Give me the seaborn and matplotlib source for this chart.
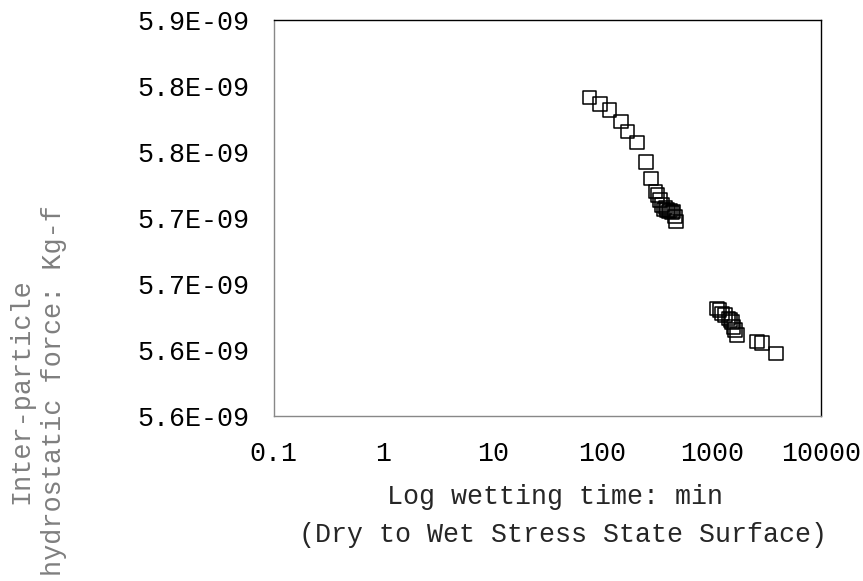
import matplotlib
matplotlib.use("Agg")
import matplotlib.pyplot as plt
import seaborn as sns
import pandas as pd
import numpy as np

sns.set_style("white")
plt.rcParams['font.family'] = ['Liberation Mono', 'DejaVu Sans Mono']

# wetting time [min] and inter-particle hydrostatic force [Kg-f]
wet_time = [76, 95, 116, 147, 169, 206, 251, 277, 305, 318, 336, 350, 360, 375, 387,
            400, 415, 430, 445, 461, 471,
            1109, 1170, 1231, 1319, 1415, 1470, 1520, 1572, 1629, 1688, 2570, 2855, 3854]
force = [5.7914, 5.7864, 5.7818, 5.7730, 5.7654, 5.7571, 5.7424, 5.7298, 5.7199, 5.7174,
         5.7136, 5.7100, 5.7066, 5.7080, 5.7061, 5.7050, 5.7055, 5.7040, 5.7048, 5.7010, 5.6972,
         5.6316, 5.6303, 5.6278, 5.6265, 5.6240, 5.6228, 5.6214, 5.6176, 5.6152, 5.6114,
         5.6063, 5.6055, 5.5975]
force = [v * 1e-9 for v in force]

x_ticks = [0.1, 1, 10, 100, 1000, 10000]
x_tick_labels = ['0.1', '1', '10', '100', '1000', '10000']
y_ticks = [5.55e-9, 5.60e-9, 5.65e-9, 5.70e-9, 5.75e-9, 5.80e-9, 5.85e-9]
y_tick_labels = ['5.6E-09', '5.6E-09', '5.7E-09', '5.7E-09', '5.8E-09', '5.8E-09', '5.9E-09']

df = pd.DataFrame({'time': wet_time, 'force': force})

FS = 19.2

fig = plt.figure(figsize=(8.63, 5.81), dpi=100)
ax = fig.add_axes([0.3173, 0.284, 0.6346, 0.6816])

sns.scatterplot(data=df, x='time', y='force', ax=ax, marker='s', s=95,
                facecolors='none', edgecolor='black', linewidth=1.1, legend=False)

ax.set_xscale('log')
ax.set_xlim(0.1, 10000)
ax.set_ylim(5.55e-9, 5.85e-9)
ax.set_xticks(x_ticks)
ax.set_xticklabels(x_tick_labels)
ax.set_yticks(y_ticks)
ax.set_yticklabels(y_tick_labels)
ax.minorticks_off()
ax.tick_params(axis='both', which='major', labelsize=FS, length=6, width=1,
               direction='out', labelcolor='black', color='#888888')
ax.tick_params(axis='y', pad=12)
ax.tick_params(axis='x', pad=12)

ax.spines['left'].set_color('#888888')
ax.spines['bottom'].set_color('#888888')
ax.spines['top'].set_color('black')
ax.spines['right'].set_color('black')
for s in ax.spines.values():
    s.set_linewidth(1)
ax.grid(False)

ax.set_xlabel('Log wetting time: min\n (Dry to Wet Stress State Surface)',
              fontsize=FS, labelpad=12, linespacing=1.6)
ax.xaxis.label.set_x(0.513)
ax.set_ylabel('')

# y title: two rotated gray lines, centred on each other
fig.text(38 / 863, 1 - 391 / 581, 'Inter-particle\nhydrostatic force: Kg-f', rotation=90,
         ha='center', va='center', multialignment='center',
         fontsize=19.4, color='#7f7f7f', linespacing=1.33)

fig.savefig('out.png', dpi=100)
